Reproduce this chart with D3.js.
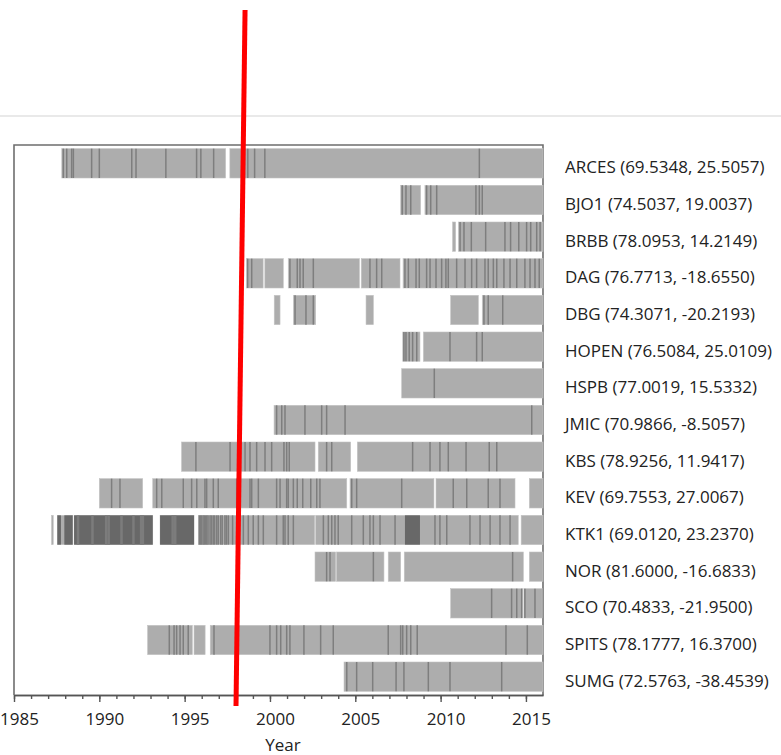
<!DOCTYPE html>
<html>
<head>
<meta charset="utf-8">
<script src="https://cdn.jsdelivr.net/npm/d3@7"></script>
<style>
  html, body { margin: 0; padding: 0; background: #fff; }
  svg { display: block; }
  text { font-family: "Open Sans", "Noto Sans", sans-serif; fill: #222; }
</style>
</head>
<body>
<svg id="chart" width="781" height="755"></svg>
<script>
// ---------- DATA ----------
const stations = ["ARCES","BJO1","BRBB","DAG","DBG","HOPEN","HSPB","JMIC","KBS","KEV","KTK1","NOR","SCO","SPITS","SUMG"];
const lats = [69.5348, 74.5037, 78.0953, 76.7713, 74.3071, 76.5084, 77.0019, 70.9866, 78.9256, 69.7553, 69.0120, 81.6000, 70.4833, 78.1777, 72.5763];
const lons = [25.5057, 19.0037, 14.2149, -18.6550, -20.2193, 25.0109, 15.5332, -8.5057, 11.9417, 27.0067, 23.2370, -16.6833, -21.9500, 16.3700, -38.4539];

// data availability periods (decimal years), one list per station
const coverage = [
  [[1987.8, 1997.4], [1997.65, 2016]],
  [[2007.66, 2008.83], [2009.08, 2016]],
  [[2010.7, 2010.88], [2011.04, 2016]],
  [[1998.63, 1999.6], [1999.7, 2000.78], [2001.07, 2005.24], [2005.35, 2007.62], [2007.8, 2016]],
  [[2000.25, 2000.59], [2001.37, 2002.68], [2005.63, 2006.06], [2010.59, 2012.21], [2012.44, 2016]],
  [[2007.78, 2008.79], [2008.99, 2016]],
  [[2007.72, 2016]],
  [[2000.24, 2016]],
  [[1994.82, 2002.64], [2002.83, 2004.73], [2005.12, 2016]],
  [[1990.0, 1992.54], [1993.13, 2004.5], [2004.69, 2009.61], [2009.73, 2014.36], [2015.2, 2016]],
  [[1987.2, 1987.3], [1987.54, 1988.44], [1988.52, 1993.13], [1993.56, 1995.55], [1995.8, 2002.62], [2002.68, 2014.55], [2014.72, 2016]],
  [[2002.64, 2003.85], [2003.9, 2006.68], [2006.93, 2007.66], [2007.87, 2014.85], [2015.2, 2016]],
  [[2010.59, 2014.8], [2014.88, 2015.95]],
  [[1992.83, 1995.45], [1995.55, 1996.2], [1996.5, 2016]],
  [[2004.34, 2016]]
];

// individual short data interruptions (decimal years), one list per station
const outages = [
  [1987.89, 1988.09, 1988.38, 1988.48, 1989.55, 1990.0, 1991.9, 1992.15, 1993.9, 1995.7, 1995.95, 1996.7, 1998.7, 1999.1, 1999.7, 2012.27],
  [2007.75, 2007.97, 2008.25, 2009.18, 2009.42, 2009.77, 2012.07, 2012.27, 2012.44],
  [2011.14, 2011.37, 2011.8, 2012.64, 2013.77, 2014.1, 2014.58, 2015.04, 2015.28, 2015.63, 2015.83],
  [1998.69, 1998.93, 2001.17, 2001.6, 2001.76, 2001.95, 2002.54, 2005.86, 2006.25, 2006.55, 2007.91, 2008.11, 2008.56, 2008.75, 2009.18, 2009.38, 2009.73, 2010.06, 2010.31, 2010.45, 2010.94, 2011.43, 2011.82, 2012.11, 2012.6, 2012.79, 2013.09, 2013.29, 2013.71, 2014.07, 2014.46, 2014.94, 2015.24, 2015.53, 2015.78],
  [2001.47, 2002.11, 2002.54, 2012.54, 2012.79, 2013.64],
  [2007.85, 2007.97, 2008.16, 2008.36, 2008.6, 2010.55, 2012.11, 2012.44],
  [2009.63],
  [2000.39, 2000.69, 2000.88, 2002.05, 2003.03, 2003.32, 2004.4, 2015.34],
  [1995.66, 1997.66, 1998.54, 1998.83, 1999.22, 1999.71, 2000.1, 2000.82, 2000.98, 2001.13, 2003.32, 2003.62, 2008.36, 2009.38, 2009.96, 2010.45, 2011.49, 2012.85, 2013.29],
  [1990.72, 1991.21, 1993.36, 1993.66, 1994.92, 1995.41, 1995.71, 1996.19, 1996.29, 1996.68, 1996.97, 1998.05, 1998.83, 1998.93, 1999.32, 2000.39, 2000.59, 2000.98, 2001.07, 2001.37, 2001.6, 2001.92, 2002.39, 2002.74, 2002.93, 2004.79, 2005.08, 2007.72, 2010.74, 2011.53, 2012.79, 2013.48],
  [1995.86, 1995.93, 1995.99, 1996.08, 1996.15, 1996.22, 1996.29, 1996.37, 1996.49, 1996.58, 1996.68, 1996.76, 1996.88, 1996.97, 1997.11, 1997.2, 1997.36, 1997.45, 1997.56, 1997.81, 1998.05, 1998.2, 1998.44, 1998.73, 1999.02, 1999.32, 1999.61, 2000.39, 2000.78, 2000.88, 2001.07, 2001.37, 2003.13, 2003.42, 2003.62, 2003.81, 2004.0, 2004.79, 2005.47, 2005.86, 2006.06, 2006.45, 2007.33, 2009.67, 2009.96, 2010.36, 2011.72, 2012.31, 2012.9, 2013.48, 2014.07],
  [2003.32, 2003.52, 2006.06, 2014.22],
  [2012.99, 2014.16, 2014.46, 2014.75, 2014.94, 2015.53],
  [1994.1, 1994.38, 1994.53, 1994.73, 1994.92, 1995.21, 1996.72, 2000.0, 2000.39, 2000.63, 2000.98, 2001.17, 2001.99, 2002.97, 2003.71, 2006.93, 2007.66, 2007.78, 2008.01, 2008.25, 2008.63, 2013.83, 2015.08],
  [2004.5, 2005.08, 2006.02, 2007.39, 2007.85, 2009.28, 2010.55, 2013.58]
];

// periods with very frequent interruptions (decimal years)
const denseOutageStation = ["KTK1","KTK1","KTK1","KTK1","KTK1"];
const denseOutagePeriods = [[1987.54, 1987.75], [1987.95, 1988.44], [1988.52, 1993.13], [1993.56, 1995.55], [2007.91, 2008.79]];
// short calmer spells inside those dense periods (decimal years)
const calmerSpells = [1988.75, 1989.6, 1990.4, 1990.55, 1991.3, 1992.0, 1992.45, 1992.55, 1994.3, 1994.45];

const yearDomain = [1985, 2016];
const majorTicks = [1985, 1990, 1995, 2000, 2005, 2010, 2015];
const minorTicks = d3.range(1985, 2016, 1);
const axisTitle = "Year";
// red annotation line (year at its top end, year at its bottom end)
const markerYears = [1998.54, 1998.01];

// ---------- LAYOUT ----------
const svg = d3.select("#chart");
const X0 = 14, X1 = 543, YT = 145, YB = 695;
const x = d3.scaleLinear().domain(yearDomain).range([X0, X1]);
const y = d3.scaleBand().domain(stations).range([YT, YB]).paddingInner(0.2).paddingOuter(0.1);

// light separator line near the top
svg.append("line").attr("x1", 0).attr("x2", 781).attr("y1", 116).attr("y2", 116)
  .attr("stroke", "#e2e2e2").attr("stroke-width", 1.5);

// frame (left, top, right)
svg.append("path")
  .attr("d", `M${X0},${YB}V${YT}H${X1}V${YB}`)
  .attr("fill", "none").attr("stroke", "#6e6e6e").attr("stroke-width", 1.6);

const bars = svg.append("g");
stations.forEach((s, i) => {
  const g = bars.append("g");
  g.selectAll("rect.seg").data(coverage[i]).join("rect")
    .attr("class", "seg")
    .attr("x", d => x(d[0]))
    .attr("width", d => Math.max(1, x(d[1]) - x(d[0])))
    .attr("y", y(s)).attr("height", y.bandwidth())
    .attr("fill", "#adadad")
    .attr("stroke", "#c4c4c4").attr("stroke-width", 0.6);
  g.selectAll("rect.dense").data(denseOutagePeriods.filter((d, k) => denseOutageStation[k] === s)).join("rect")
    .attr("class", "dense")
    .attr("x", d => x(d[0]))
    .attr("width", d => x(d[1]) - x(d[0]))
    .attr("y", y(s)).attr("height", y.bandwidth())
    .attr("fill", "#686868");
  if (s === "KTK1") {
    g.selectAll("line.calm").data(calmerSpells).join("line")
      .attr("class", "calm")
      .attr("x1", d => x(d)).attr("x2", d => x(d))
      .attr("y1", y(s)).attr("y2", y(s) + y.bandwidth())
      .attr("stroke", "#7c7c7c").attr("stroke-width", 2.5);
  }
  g.selectAll("line.out").data(outages[i]).join("line")
    .attr("class", "out")
    .attr("x1", d => x(d)).attr("x2", d => x(d))
    .attr("y1", y(s)).attr("y2", y(s) + y.bandwidth())
    .attr("stroke", "#7e7e7e").attr("stroke-width", 1.5);
});

// station labels
svg.append("g").selectAll("text").data(stations).join("text")
  .attr("x", 565)
  .attr("y", d => y(d) + y.bandwidth() / 2 + 10)
  .attr("font-size", 17)
  .text((d, i) => `${d} (${lats[i].toFixed(4)}, ${lons[i].toFixed(4)})`);

// x axis
const minorAxis = d3.axisBottom(x).tickValues(minorTicks).tickSize(4).tickSizeOuter(0).tickFormat("");
const majorAxis = d3.axisBottom(x).tickValues(majorTicks).tickSize(7).tickSizeOuter(0).tickFormat(d3.format("d"));
const gMinor = svg.append("g").attr("transform", `translate(0,${YB})`).call(minorAxis);
const gMajor = svg.append("g").attr("transform", `translate(0,${YB})`).call(majorAxis);
[gMinor, gMajor].forEach(g => {
  g.select(".domain").attr("stroke", "#555").attr("stroke-width", 1.6);
  g.selectAll(".tick line").attr("stroke", "#555").attr("stroke-width", 1.4);
});
gMajor.selectAll(".tick text")
  .attr("y", 30).attr("dy", 0).attr("dx", 5)
  .attr("font-size", 17).attr("font-family", "Open Sans, sans-serif").attr("fill", "#222");

svg.append("text").attr("x", 283).attr("y", 751).attr("text-anchor", "middle")
  .attr("font-size", 17).text(axisTitle);

// red annotation line
svg.append("line")
  .attr("x1", x(markerYears[0])).attr("y1", 10)
  .attr("x2", x(markerYears[1])).attr("y2", 706)
  .attr("stroke", "#ff0000").attr("stroke-width", 5);
</script>
</body>
</html>
